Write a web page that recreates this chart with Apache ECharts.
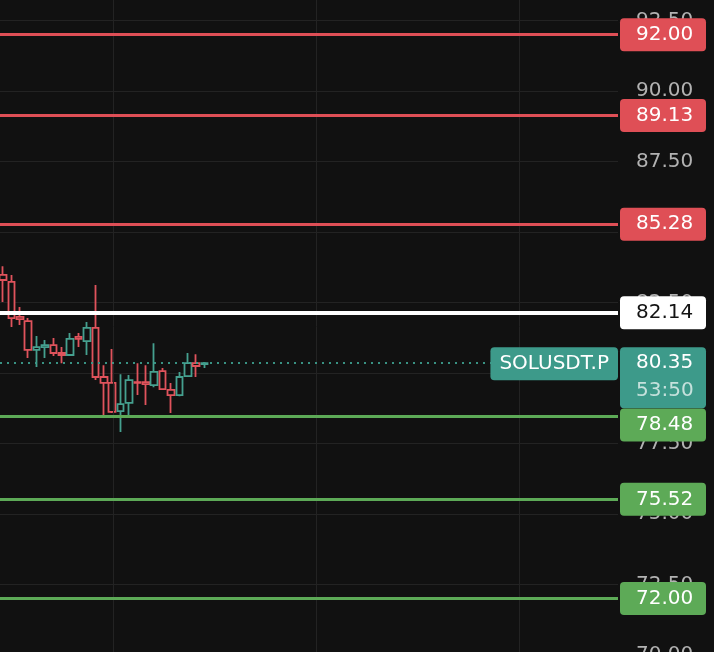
<!DOCTYPE html>
<html>
<head>
<meta charset="utf-8">
<script src="https://cdn.jsdelivr.net/npm/echarts@6/dist/echarts.min.js"></script>
<style>
  html, body { margin: 0; padding: 0; background: #111111; }
  #chart { width: 714px; height: 652px; }
</style>
</head>
<body>
<div id="chart"></div>
<script>
// SOLUSDT.P - hollow candles + levels
const symbolName = 'SOLUSDT.P';
const countdown = '53:50';

const opens  = [83.48, 83.23, 81.99, 81.84, 80.82, 80.92, 80.99, 80.71, 80.64, 81.28, 81.13, 81.60, 79.86,
                79.65, 78.65, 78.94, 79.68, 79.68, 79.57, 80.07, 79.40, 79.22, 79.89, 80.35, 80.32];
const closes = [83.30, 81.95, 81.91, 80.82, 80.92, 80.99, 80.71, 80.64, 81.21, 81.21, 81.60, 79.86, 79.65,
                78.62, 78.90, 79.75, 79.65, 79.61, 80.04, 79.43, 79.22, 79.86, 80.35, 80.25, 80.35];
const lows   = [82.52, 81.63, 81.70, 80.53, 80.21, 80.53, 80.60, 80.35, 80.60, 80.92, 80.64, 79.75, 78.51,
                78.58, 77.91, 78.51, 79.22, 78.87, 79.50, 79.40, 78.58, 79.18, 79.89, 79.86, 80.18];
const highs  = [83.79, 83.48, 82.34, 81.95, 81.31, 81.17, 81.24, 80.92, 81.42, 81.42, 81.81, 83.12, 80.28,
                80.85, 79.96, 79.93, 80.35, 80.28, 81.06, 80.18, 79.65, 80.04, 80.71, 80.67, 80.39];

const resistanceLevels = [92.00, 89.13, 85.28];
const pivotLevels = [82.14];
const supportLevels = [78.48, 75.52, 72.00];

// vertical time grid, in bar units
const timeGrid = [13.1, 37.3, 61.5];

const yMin = 70, yMax = 93.23, yStep = 2.5;

const RED = '#df4f56';
const GREEN = '#5daa57';
const TEAL = '#3d9a8a';
const CANDLE_UP = '#45a08f';
const CANDLE_DOWN = '#e0535c';
const BG = '#111111';
const GRID = '#232323';
const FONT = 'DejaVu Sans';

const candles = opens.map((o, i) => [i, o, closes[i], lows[i], highs[i]]);
const lastClose = closes[closes.length - 1];

function levelLabel(bg, fg, extra) {
  return Object.assign({
    show: true,
    position: 'end',
    distance: 2,
    formatter: p => p.value.toFixed(2),
    color: fg,
    backgroundColor: bg,
    borderRadius: 4,
    padding: [8, 10, 8, 16],
    width: 60,
    fontSize: 20,
    lineHeight: 17,
    fontFamily: FONT
  }, extra || {});
}

const levelLines = [];
resistanceLevels.forEach(v => levelLines.push({
  yAxis: v, lineStyle: { color: RED, width: 3, type: 'solid' }, label: levelLabel(RED, '#fff')
}));
pivotLevels.forEach(v => levelLines.push({
  yAxis: v, lineStyle: { color: '#ffffff', width: 4, type: 'solid' }, label: levelLabel('#ffffff', '#131313')
}));
supportLevels.forEach((v, i) => levelLines.push({
  yAxis: v, lineStyle: { color: GREEN, width: 3, type: 'solid' },
  // first support label is pushed down by the price tag
  label: levelLabel(GREEN, '#fff', i === 0 ? { offset: [0, 9] } : {})
}));

// current price line + tags
levelLines.unshift({
  yAxis: lastClose,
  lineStyle: { color: TEAL, width: 1.5, type: [2, 5] },
  label: {
    show: true,
    position: 'insideEndTop',
    distance: 0,
    offset: [0, 17],
    formatter: symbolName,
    color: '#fff',
    backgroundColor: TEAL,
    borderRadius: 4,
    padding: [8, 9, 8, 9],
    fontSize: 20,
    lineHeight: 17,
    fontFamily: FONT
  }
});
levelLines.unshift({
  yAxis: lastClose,
  lineStyle: { color: TEAL, width: 1.5, type: [2, 5] },
  label: {
    show: true,
    position: 'end',
    distance: 2,
    offset: [0, 14.5],
    formatter: '{p|' + lastClose.toFixed(2) + '}\n{t|' + countdown + '}',
    backgroundColor: TEAL,
    borderRadius: 4,
    padding: [2, 10, 3, 16],
    width: 60,
    rich: {
      p: { color: '#ffffff', fontSize: 20, lineHeight: 28, fontFamily: FONT },
      t: { color: 'rgba(255,255,255,0.7)', fontSize: 20, lineHeight: 28, fontFamily: FONT }
    }
  }
});

const chart = echarts.init(document.getElementById('chart'));
chart.setOption({
  backgroundColor: BG,
  animation: false,
  grid: { left: 0, width: 618, top: 0, height: 655, outerBoundsMode: 'none', containLabel: false },
  xAxis: {
    type: 'value',
    min: -0.357,
    max: 73.21,
    axisLine: { show: false },
    axisTick: { show: false },
    axisLabel: { show: false },
    splitLine: { show: false }
  },
  yAxis: {
    type: 'value',
    position: 'right',
    min: yMin,
    max: yMax,
    interval: yStep,
    axisLine: { show: false },
    axisTick: { show: false },
    axisLabel: {
      color: '#b2b2b2',
      fontSize: 20,
      fontFamily: FONT,
      margin: 18,
      showMaxLabel: false,
      formatter: v => v.toFixed(2)
    },
    splitLine: { showMaxLine: false, lineStyle: { color: GRID, width: 1 } }
  },
  series: [
    {
      // time grid lines, under the candles
      type: 'line',
      data: [],
      z: 1,
      silent: true,
      markLine: {
        silent: true,
        symbol: ['none', 'none'],
        animation: false,
        label: { show: false },
        lineStyle: { color: GRID, width: 1, type: 'solid' },
        data: timeGrid.map(x => ({ xAxis: x }))
      }
    },
    {
      type: 'candlestick',
      data: candles,
      encode: { x: 0, y: [1, 2, 3, 4] },
      barWidth: 7,
      z: 2,
      itemStyle: {
        color: BG,
        color0: BG,
        borderColor: CANDLE_UP,
        borderColor0: CANDLE_DOWN,
        borderWidth: 1.8
      },
      markLine: {
        silent: true,
        symbol: ['none', 'none'],
        animation: false,
        data: levelLines
      }
    }
  ]
});
</script>
</body>
</html>
